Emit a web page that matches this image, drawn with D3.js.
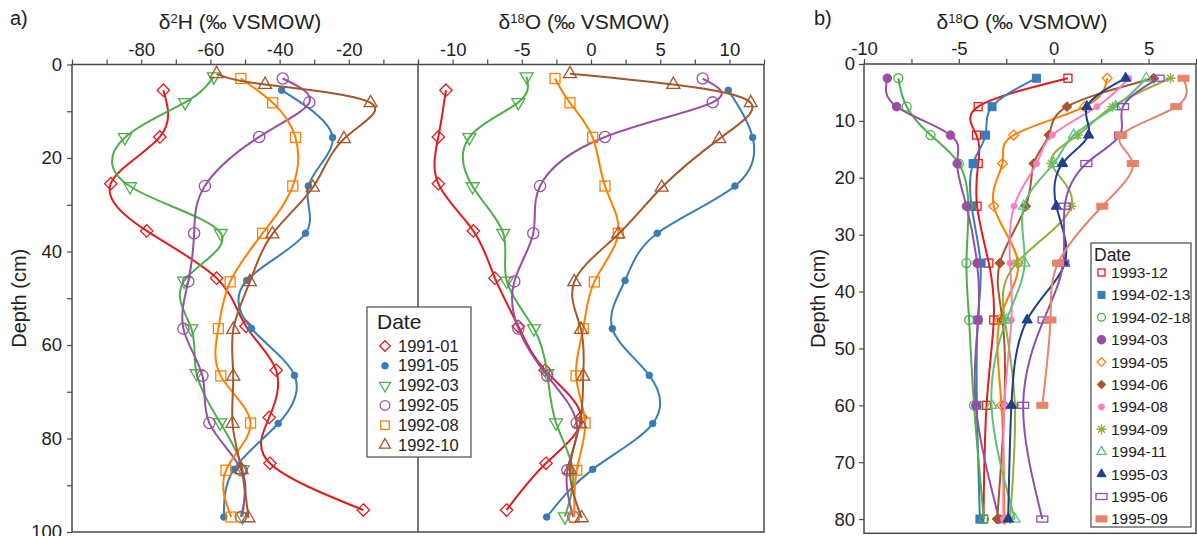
<!DOCTYPE html>
<html>
<head>
<meta charset="utf-8">
<script src="https://cdn.jsdelivr.net/npm/d3@7/dist/d3.min.js"></script>
<style>
  body { margin: 0; background: #fff; }
  svg { display: block; }
  text { font-family: "Liberation Sans", Arial, sans-serif; fill: #222; }
</style>
</head>
<body>
<svg id="chart" width="1197" height="536"></svg>
<script>
// ---- panel a data (depth in cm, values in permil) ----
const datesA = ["1991-01", "1991-05", "1992-03", "1992-05", "1992-08", "1992-10"];
const depthsA = [
  [5.5, 15.5, 25.5, 35.6, 45.7, 56, 65.4, 75.5, 85.3, 95.3],
  [5.5, 15.6, 26, 36.1, 46.2, 56.5, 66.5, 76.8, 86.6, 96.8],
  [2.6, 8.1, 15.6, 26.1, 36.1, 46.3, 56.5, 66.1, 76.6, 86.6, 96.7],
  [3, 8.1, 15.5, 26, 36.1, 46.4, 56.5, 66.6, 76.7, 86.8, 96.8],
  [3, 8.2, 15.6, 26, 36.1, 46.5, 56.5, 66.6, 76.7, 86.8, 96.8],
  [2, 4.3, 8.2, 15.9, 26.3, 36.3, 46.5, 56.7, 66.7, 76.8, 86.7, 97]
];
const h2A = [
  [-73.6, -74.6, -88.8, -78.4, -58.2, -49.7, -41.0, -43.0, -42.8, -15.8],
  [-39.4, -24.7, -31.7, -32.5, -49.5, -48.1, -35.7, -40.4, -53.2, -56.1],
  [-59, -67.3, -84.7, -83.2, -57.0, -67.6, -65.5, -64.0, -57.2, -50.7, -50.7],
  [-39.1, -31.4, -45.9, -61.6, -64.7, -66.4, -67.8, -62.3, -60.3, -51, -51.2],
  [-51.2, -42.0, -35.4, -36.2, -44.9, -54.3, -57.7, -57.0, -48.4, -55.5, -54.0],
  [-58.2, -44.2, -13.7, -21.4, -30.4, -42.1, -48.6, -53.4, -53.4, -53.6, -51, -49]
];
const o18A = [
  [-10.48, -11.03, -11.03, -8.5, -6.94, -5.25, -3.32, -0.7, -3.25, -6.1],
  [9.92, 11.68, 10.4, 4.79, 2.46, 1.54, 4.21, 4.46, 0.12, -3.2],
  [-4.65, -5.25, -8.79, -8.55, -6.34, -6.09, -4.12, -3.16, -2.53, -1.32, -1.88],
  [8.07, 8.79, 1.01, -3.68, -4.17, -5.54, -5.25, -3.16, -1.03, -1.71, -1.28],
  [-2.6, -1.52, 0.12, 1.01, 1.97, 0.24, -0.56, -1.08, -0.43, -1.03, -1.2],
  [-1.52, 5.95, 11.54, 9.27, 5.11, 1.97, -1.21, -0.72, -0.56, -0.8, -1.52, -0.67]
];
const colorsA = ["#e41a1c", "#377eb8", "#4daf4a", "#984ea3", "#ff7f00", "#a65628"];
const symbolsA = ["diamond", "dot", "triDown", "circle", "square", "triUp"];

// ---- panel b data ----
const datesB = ["1993-12", "1994-02-13", "1994-02-18", "1994-03", "1994-05", "1994-06",
  "1994-08", "1994-09", "1994-11", "1995-03", "1995-06", "1995-09"];
const depthsB = [2.5, 7.5, 12.5, 17.5, 25, 35, 45, 60, 80];
const o18B = [
  [0.75, -3.98, -4.07, -3.98, -4.04, -3.42, -3.16, -3.54, -3.7],
  [-0.91, -3.25, -3.59, -4.25, -4.33, -3.86, -4.0, -4.05, -3.89],
  [-8.19, -7.75, -6.49, -5.0, -4.5, -4.6, -4.46, -4.2, -3.68],
  [-8.77, -8.28, -5.44, -5.09, -4.6, -4.04, -3.98, -4.11, -2.88],
  [2.82, 1.63, -2.11, -2.7, -3.16, -1.88, -2.84, -2.75, -2.6],
  [5.26, 0.7, -0.25, -1.05, -1.47, -2.84, -2.7, -2.6, -2.98],
  [3.96, 2.28, -0.07, -0.9, -2.09, -2.3, -2.23, -2.6, -2.65],
  [6.16, 3.09, 1.28, -0.12, 0.93, -1.96, -2.58, -2.05, -2.3],
  [4.88, 3.26, 1.05, 0.0, -1.58, -1.53, -2.49, -3.28, -2.05],
  [3.79, 1.75, 1.84, 0.46, 0.14, 0.58, -1.4, -2.23, -2.4],
  [5.53, 3.65, 3.5, 1.72, 0.58, 0.5, -0.53, -1.61, -0.6],
  [6.84, 6.46, 3.56, 4.17, 2.56, 0.23, -0.17, -0.6, null]
];
const colorsB = ["#e41a1c", "#377eb8", "#4daf4a", "#984ea3", "#ff7f00", "#a65628",
  "#f781bf", "#95ad3a", "#5cc27c", "#1f3f8f", "#8e4fb0", "#e5846a"];
const symbolsB = ["square", "squareFill", "circle", "dotBig", "diamond", "diamondFill",
  "dotSmall", "asterisk", "triUp", "triUpFill", "rect", "rectFill"];

const svg = d3.select("#chart");
const frameColor = "#4a4a4a";

function tri(x, y, a, up) {
  const h = a * 0.866, s = up ? 1 : -1;
  return `M${x},${y - s * h * 2 / 3}L${x + a / 2},${y + s * h / 3}L${x - a / 2},${y + s * h / 3}Z`;
}

// draw one marker; size k scales the shape (panel a larger than b)
function marker(g, type, color, x, y, k) {
  const open = { fill: "none", stroke: color, "stroke-width": 1.3 };
  const full = { fill: color, stroke: color, "stroke-width": 1 };
  const add = (tag, attrs, style) => {
    const n = g.append(tag);
    Object.entries(attrs).forEach(([a, v]) => n.attr(a, v));
    Object.entries(style).forEach(([a, v]) => n.attr(a, v));
  };
  switch (type) {
    case "diamond": case "diamondFill": {
      const s = 6.2 * k;
      add("path", { d: `M${x},${y - s}L${x + s},${y}L${x},${y + s}L${x - s},${y}Z` },
        type === "diamond" ? open : full);
      break;
    }
    case "square": case "squareFill": {
      const s = 5 * k;
      add("rect", { x: x - s, y: y - s, width: 2 * s, height: 2 * s }, type === "square" ? open : full);
      break;
    }
    case "rect": case "rectFill":
      add("rect", { x: x - 5.5, y: y - 3, width: 11, height: 6 }, type === "rect" ? open : full);
      break;
    case "circle":
      add("circle", { cx: x, cy: y, r: 5.6 * k }, open);
      break;
    case "dot":
      add("circle", { cx: x, cy: y, r: 3.3 }, full);
      break;
    case "dotBig":
      add("circle", { cx: x, cy: y, r: 4.3 }, full);
      break;
    case "dotSmall":
      add("circle", { cx: x, cy: y, r: 3 }, full);
      break;
    case "triUp": case "triUpFill":
      add("path", { d: tri(x, y, 13 * k, true) }, type === "triUp" ? open : full);
      break;
    case "triDown":
      add("path", { d: tri(x, y, 13 * k, false) }, open);
      break;
    case "asterisk": {
      const r = 5;
      let d = "";
      [0, 45, 90, 135].forEach(a => {
        const dx = r * Math.cos(a * Math.PI / 180), dy = r * Math.sin(a * Math.PI / 180);
        d += `M${x - dx},${y - dy}L${x + dx},${y + dy}`;
      });
      add("path", { d }, { fill: "none", stroke: color, "stroke-width": 1.4 });
      break;
    }
  }
}

function title(x, y, pre, sup, post, size) {
  const t = svg.append("text").attr("x", x).attr("y", y).attr("text-anchor", "middle")
    .attr("font-size", size);
  t.append("tspan").text(pre);
  t.append("tspan").attr("font-size", size * 0.62).attr("dy", -size * 0.3).text(sup);
  t.append("tspan").attr("dy", size * 0.3).text(post);
}

function styleAxis(g) {
  g.select(".domain").remove();
  g.selectAll(".tick line").attr("stroke", frameColor).attr("stroke-width", 1.2);
  g.selectAll(".tick text").attr("font-size", 18.5).attr("fill", "#222")
    .style("font-family", "'Liberation Sans', Arial, sans-serif");
}

// ---- panel a scales ----
const yA = d3.scaleLinear().domain([0, 100]).range([64.5, 532]);
const xH = d3.scaleLinear().domain([-100, 0]).range([72, 418]);
const xO = d3.scaleLinear().domain([-12.5, 12.5]).range([418, 764]);

// ---- panel b scales ----
const yB = d3.scaleLinear().domain([0, 82.5]).range([64, 533.3]);
const xB = d3.scaleLinear().domain([-10, 7.5]).range([864, 1196]);

// axes panel a
svg.append("g").attr("transform", `translate(0,${yA(0)})`)
  .call(d3.axisTop(xH).tickValues(d3.range(-100, 0.1, 10)).tickSize(5).tickPadding(4)
    .tickFormat(d => (d % 20 === 0 && d > -100 && d < 0) ? String(d) : ""))
  .call(styleAxis);
svg.append("g").attr("transform", `translate(0,${yA(0)})`)
  .call(d3.axisTop(xO).tickValues(d3.range(-12.5, 12.6, 2.5)).tickSize(5).tickPadding(4)
    .tickFormat(d => (d % 5 === 0) ? String(d) : ""))
  .call(styleAxis);
svg.append("g").attr("transform", `translate(${xH(-100)},0)`)
  .call(d3.axisLeft(yA).tickValues(d3.range(0, 101, 10)).tickSize(5).tickPadding(5)
    .tickFormat(d => d % 20 === 0 ? String(d) : ""))
  .call(styleAxis);

// axes panel b
svg.append("g").attr("transform", `translate(0,${yB(0)})`)
  .call(d3.axisTop(xB).tickValues(d3.range(-10, 7.6, 2.5)).tickSize(5).tickPadding(4)
    .tickFormat(d => (d % 5 === 0) ? String(d) : ""))
  .call(styleAxis);
svg.append("g").attr("transform", `translate(${xB(-10)},0)`)
  .call(d3.axisLeft(yB).tickValues(d3.range(0, 81, 10)).tickSize(5).tickPadding(4)
    .tickFormat(d => String(d)))
  .call(styleAxis);

// titles
title(240, 29, "δ", "2", "H (‰ VSMOW)", 21);
title(584, 29, "δ", "18", "O (‰ VSMOW)", 21);
title(1022, 29, "δ", "18", "O (‰ VSMOW)", 21);
svg.append("text").attr("x", 10).attr("y", 25).attr("font-size", 20).text("a)");
svg.append("text").attr("x", 814).attr("y", 25).attr("font-size", 20).text("b)");
svg.append("text").attr("transform", `translate(26,${(yA.range()[0] + yA.range()[1]) / 2}) rotate(-90)`)
  .attr("text-anchor", "middle").attr("font-size", 20).text("Depth (cm)");
svg.append("text").attr("transform", `translate(825,${(64 + 533) / 2}) rotate(-90)`)
  .attr("text-anchor", "middle").attr("font-size", 20).text("Depth (cm)");

// series panel a
const plotA = svg.append("g");
datesA.forEach((name, i) => {
  const ptsH = depthsA[i].map((d, j) => ({ d, v: h2A[i][j] }));
  const ptsO = depthsA[i].map((d, j) => ({ d, v: o18A[i][j] }));
  [[ptsH, xH], [ptsO, xO]].forEach(([pts, xs]) => {
    const line = d3.line().x(p => xs(p.v)).y(p => yA(p.d)).curve(d3.curveNatural);
    plotA.append("path").attr("d", line(pts)).attr("fill", "none")
      .attr("stroke", colorsA[i]).attr("stroke-width", 2);
    pts.forEach(p => marker(plotA, symbolsA[i], colorsA[i], xs(p.v), yA(p.d), 1));
  });
});

// series panel b
const plotB = svg.append("g");
datesB.forEach((name, i) => {
  const pts = depthsB.map((d, j) => ({ d, v: o18B[i][j] })).filter(p => p.v != null);
  const line = d3.line().x(p => xB(p.v)).y(p => yB(p.d)).curve(d3.curveNatural);
  plotB.append("path").attr("d", line(pts)).attr("fill", "none")
    .attr("stroke", colorsB[i]).attr("stroke-width", 2);
  pts.forEach(p => marker(plotB, symbolsB[i], colorsB[i], xB(p.v), yB(p.d), 0.8));
});

// frames
svg.append("rect").attr("x", xH(-100)).attr("y", yA(0)).attr("width", xO(12.5) - xH(-100))
  .attr("height", yA(100) - yA(0)).attr("fill", "none").attr("stroke", frameColor).attr("stroke-width", 1.5);
svg.append("line").attr("x1", xO(-12.5)).attr("x2", xO(-12.5)).attr("y1", yA(0)).attr("y2", yA(100))
  .attr("stroke", frameColor).attr("stroke-width", 1.5);
svg.append("rect").attr("x", xB(-10)).attr("y", yB(0)).attr("width", xB(7.5) - xB(-10))
  .attr("height", yB(82.5) - yB(0)).attr("fill", "none").attr("stroke", frameColor).attr("stroke-width", 1.5);

// legend a
const legA = svg.append("g");
legA.append("rect").attr("x", 367).attr("y", 307).attr("width", 104).attr("height", 150)
  .attr("fill", "#fff").attr("stroke", frameColor).attr("stroke-width", 1.2);
legA.append("text").attr("x", 377).attr("y", 329).attr("font-size", 21).text("Date");
datesA.forEach((name, i) => {
  const cy = 346 + i * 19.8;
  marker(legA, symbolsA[i], colorsA[i], 385, cy, 0.85);
  legA.append("text").attr("x", 398).attr("y", cy + 5.5).attr("font-size", 16.5).text(name);
});

// legend b
const legB = svg.append("g");
legB.append("rect").attr("x", 1091).attr("y", 243).attr("width", 100).attr("height", 284)
  .attr("fill", "#fff").attr("stroke", frameColor).attr("stroke-width", 1.2);
legB.append("text").attr("x", 1094).attr("y", 261).attr("font-size", 17.5).text("Date");
datesB.forEach((name, i) => {
  const cy = 272.5 + i * 22.4;
  marker(legB, symbolsB[i], colorsB[i], 1101.5, cy, 0.7);
  legB.append("text").attr("x", 1111).attr("y", cy + 5.5).attr("font-size", 15.5).text(name);
});
</script>
</body>
</html>
